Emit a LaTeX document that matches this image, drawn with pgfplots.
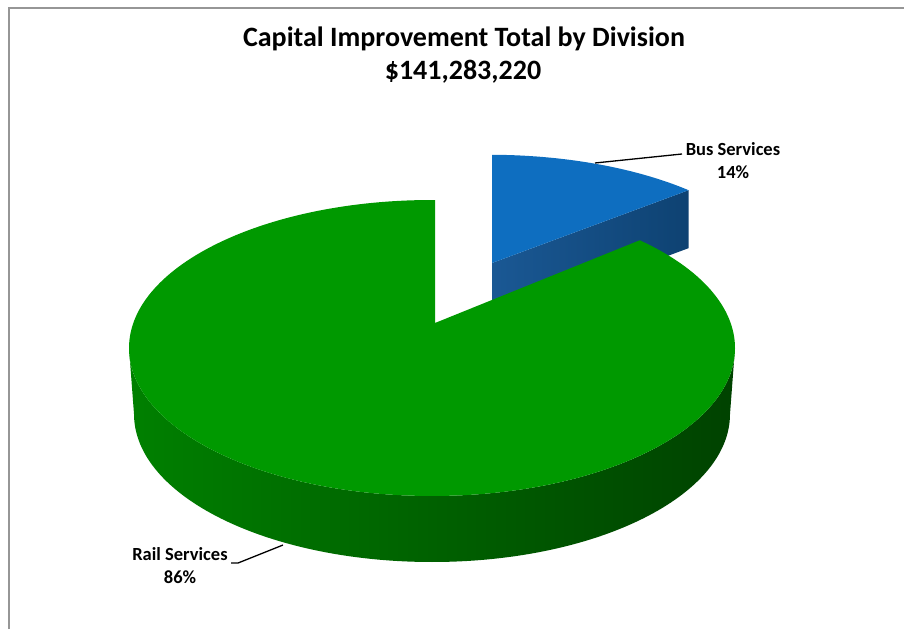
\documentclass[border=0pt]{standalone}
\usepackage{pgfplots}
\pgfplotsset{compat=1.18}
\usepackage{pgfplotstable}
\usepackage{fontspec}
\setmainfont{Carlito}

% Capital improvement share by division (percent)
\pgfplotstableread{
division value
Bus  14
Rail 86
}\piedata

\definecolor{greenTop}{RGB}{0,153,0}
\definecolor{gSideL}{RGB}{0,128,0}
\definecolor{gSideM}{RGB}{0,90,0}
\definecolor{gSideR}{RGB}{0,66,0}
\definecolor{blueTop}{RGB}{14,110,192}
\definecolor{bSideL}{RGB}{26,88,148}
\definecolor{bSideR}{RGB}{14,66,114}
\definecolor{frameGray}{RGB}{150,150,150}

% rim angle (ellipse parameter) reached by a ray from the apex at pie angle #1
\newcommand\rimangle[2]{%
  \pgfmathsetmacro\rB{\normU*cos(#1)+\normV*sin(#1)}%
  \pgfmathsetmacro\rC{\normU*\normU+\normV*\normV-1}%
  \pgfmathsetmacro\rS{-\rB+sqrt(\rB*\rB-\rC)}%
  \pgfmathsetmacro#2{atan2(\normV+\rS*sin(#1),\normU+\rS*cos(#1))}}

\begin{document}
\begin{tikzpicture}
\pgfplotstablegetelem{0}{value}\of\piedata \let\busval\pgfplotsretval
\pgfplotstablegetelem{1}{value}\of\piedata \let\railval\pgfplotsretval
% slice boundaries, clockwise from 12 o'clock
\pgfmathsetmacro\phiA{90}
\pgfmathsetmacro\phiB{90-3.6*\busval}

% top ellipse of the disc, apex (projected centre), thickness
\def\Ex{432}\def\Ey{281}\def\Ra{303}\def\Rb{148}
\def\Px{435}\def\Py{306}
\def\Rc{298}\def\H{66}
\pgfmathsetmacro\normU{(\Px-\Ex)/\Ra}
\pgfmathsetmacro\normV{(\Py-\Ey)/\Rb}
\rimangle{\phiA}{\tA}
\rimangle{\phiB}{\tB}
\pgfmathsetmacro\tBB{\tB+360}
\pgfmathsetmacro\gAx{\Ex+\Ra*cos(\tA)}
\pgfmathsetmacro\gAy{\Ey+\Rb*sin(\tA)}
\pgfmathsetmacro\sLx{\Ex-\Ra}
\pgfmathsetmacro\sRx{\Ex+\Rc}
\pgfmathsetmacro\sRy{\Ey-\H}

% exploded slice: scaled about its apex and moved out
\def\Qx{492}\def\Qy{366}\def\sx{0.96}\def\sy{0.88}\def\hb{58}
\pgfmathsetmacro\bEx{\Qx+\sx*(\Ex-\Px)}
\pgfmathsetmacro\bEy{\Qy+\sy*(\Ey-\Py)}
\pgfmathsetmacro\bRa{\sx*\Ra}
\pgfmathsetmacro\bRb{\sy*\Rb}
\pgfmathsetmacro\bAx{\bEx+\bRa*cos(\tA)}
\pgfmathsetmacro\bAy{\bEy+\bRb*sin(\tA)}
\pgfmathsetmacro\bBx{\bEx+\bRa*cos(\tB)}
\pgfmathsetmacro\bBy{\bEy+\bRb*sin(\tB)}
\pgfmathsetmacro\bBly{\bBy-\hb}
\pgfmathsetmacro\Qly{\Qy-\hb}

\begin{axis}[
  name=pie,
  x=1pt, y=1pt,
  xmin=0, xmax=904, ymin=0, ymax=629,
  xtick=\empty, ytick=\empty,
  hide axis, clip=false,
]
% Bus Services slice: cut face, then top
\shade[left color=bSideL, right color=bSideR]
  (axis cs:\Qx,\Qy) -- (axis cs:\bBx,\bBy) -- (axis cs:\bBx,\bBly) -- (axis cs:\Qx,\Qly) -- cycle;
\fill[blueTop] (axis cs:\Qx,\Qy) -- (axis cs:\bAx,\bAy)
  arc[start angle=\tA, end angle=\tB, x radius=\bRa pt, y radius=\bRb pt] -- cycle;

% Rail Services slice: front wall, then top
\shade[left color=gSideL, middle color=gSideM, right color=gSideR]
  (axis cs:\sLx,\Ey) arc[start angle=180, end angle=360, x radius=\Ra pt, y radius=\Rb pt]
  -- (axis cs:\sRx,\sRy) arc[start angle=0, end angle=-180, x radius=\Rc pt, y radius=\Rb pt]
  -- cycle;
\fill[greenTop] (axis cs:\Px,\Py) -- (axis cs:\gAx,\gAy)
  arc[start angle=\tA, end angle=\tBB, x radius=\Ra pt, y radius=\Rb pt] -- cycle;

% chart frame
\draw[frameGray, line width=1.6pt] (axis cs:9,0) -- (axis cs:9,621) -- (axis cs:904,621);

% title
\node[font=\fontsize{28}{34}\selectfont\bfseries] at (axis cs:464,590) {Capital Improvement Total by Division};
\node[font=\fontsize{28}{34}\selectfont\bfseries] at (axis cs:463,557) {\$141,283,220};

% data labels with leader lines
\draw[black, line width=1.3pt] (axis cs:595,466) -- (axis cs:682,475);
\node[font=\fontsize{18.5}{23}\selectfont\bfseries, align=center] at (axis cs:733,468) {Bus Services\\\busval\%};
\draw[black, line width=1.3pt] (axis cs:231,66) -- (axis cs:238,66) -- (axis cs:283,84);
\node[font=\fontsize{18.5}{23}\selectfont\bfseries, align=center] at (axis cs:180,63) {Rail Services\\\railval\%};
\end{axis}
\pgfresetboundingbox
\useasboundingbox (pie.south west) rectangle (pie.north east);
\end{tikzpicture}
\end{document}
